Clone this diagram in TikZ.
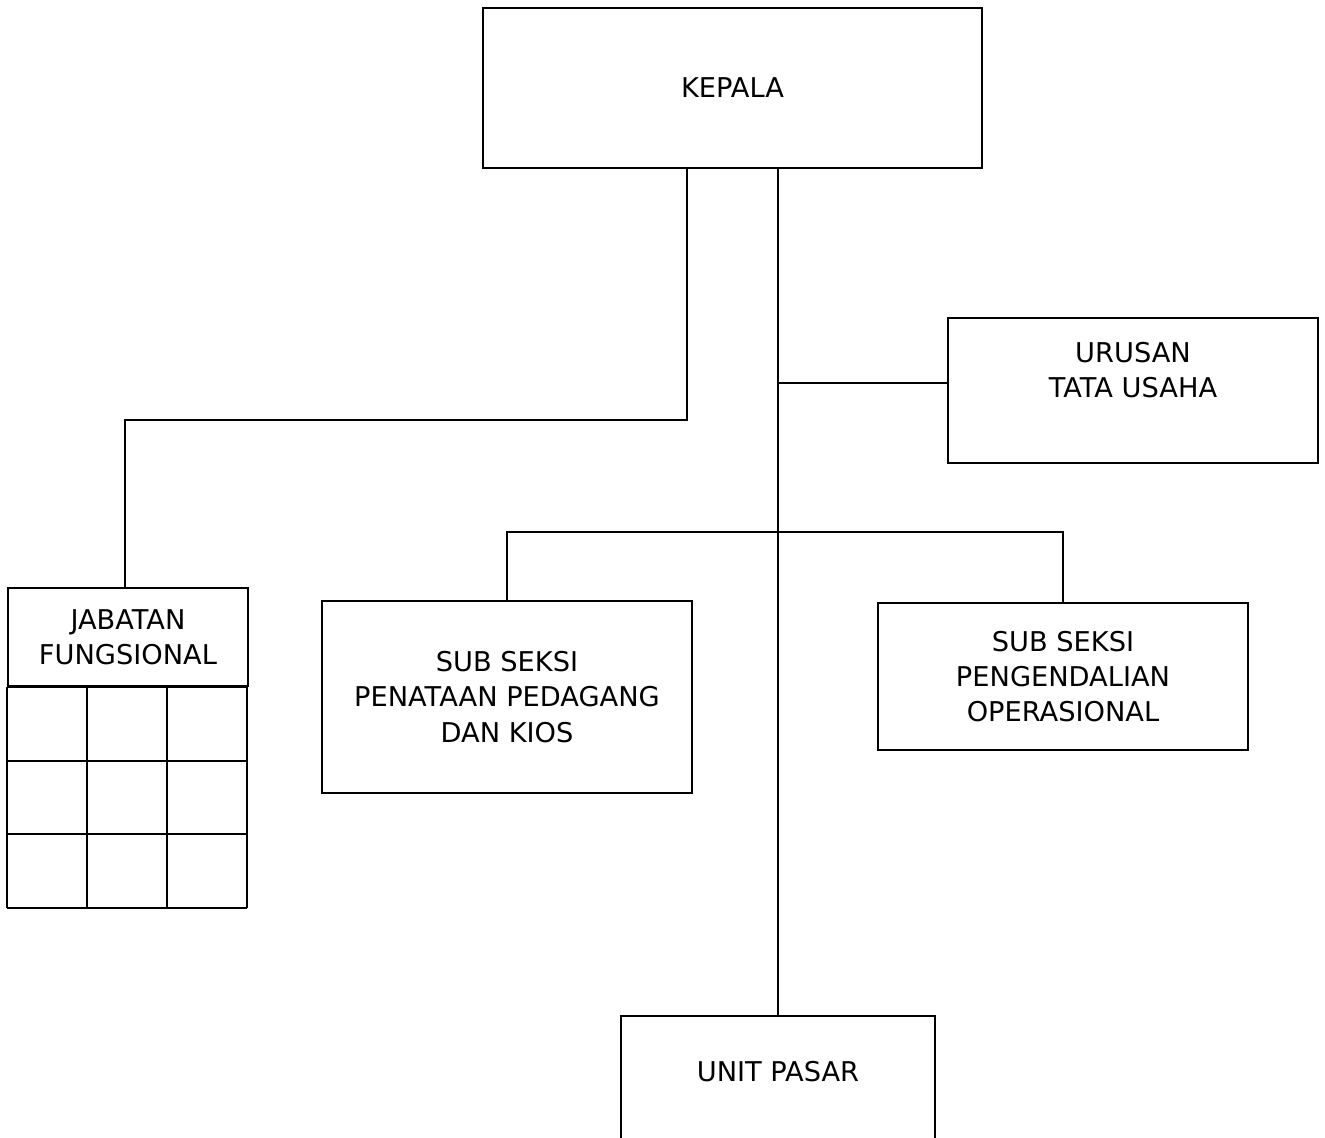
\documentclass[tikz,border=0pt]{standalone}
\usepackage{fontspec}
\setmainfont{DejaVu Sans}
\usetikzlibrary{positioning}

\tikzset{
  box/.style={draw, rectangle, line width=1.2pt, align=center, inner sep=0pt,
    font=\fontsize{15.5pt}{20pt}\selectfont},
  link/.style={line width=1.2pt}
}

\begin{document}
\begin{tikzpicture}
\useasboundingbox (0,0) rectangle (26.5,-22.74);
\clip (0,0) rectangle (26.5,-22.74);
\node (Kepala) [box, minimum width=9.98cm, minimum height=3.2cm] at (14.65,-1.76) {KEPALA};
\node (Urusan) [box, minimum width=7.4cm, minimum height=2.9cm] at (22.66,-7.81) {URUSAN\\TATA USAHA\\[0.12cm]};
\node (Penataan) [box, minimum width=7.4cm, minimum height=3.84cm] at (10.14,-13.94) {SUB SEKSI\\PENATAAN PEDAGANG\\DAN KIOS};
\node (Pengendalian) [box, minimum width=7.4cm, minimum height=2.94cm] at (21.26,-13.53) {SUB SEKSI\\PENGENDALIAN\\OPERASIONAL};
\node (Jab) [box, minimum width=4.8cm, minimum height=1.96cm] at (2.56,-12.74) {JABATAN\\FUNGSIONAL};
\node (Unit) [box, anchor=north, minimum width=6.28cm, text height=1.3cm, text depth=2cm] at (15.56,-20.3) {UNIT PASAR};
\coordinate (kj) at (13.74,-8.4);
\coordinate (kjl) at (2.5,-8.4);
\coordinate (tu) at (15.56,-7.66);
\coordinate (bar) at (15.56,-10.64);
% grid under Jabatan Fungsional
\draw[link, shift={(Jab.south west)}, xstep=1.6, ystep=1.4733] (0,-4.42) grid (4.8,0);
\draw[link] (Kepala.south -| Unit.north) -- (Unit.north);
\draw[link] (Kepala.south -| kj) -- (kj) -- (kjl) -- (kjl |- Jab.north);
\draw[link] (tu) -- (tu -| Urusan.west);
\draw[link] (Penataan.north) |- (bar) -| (Pengendalian.north);
\end{tikzpicture}
\end{document}
